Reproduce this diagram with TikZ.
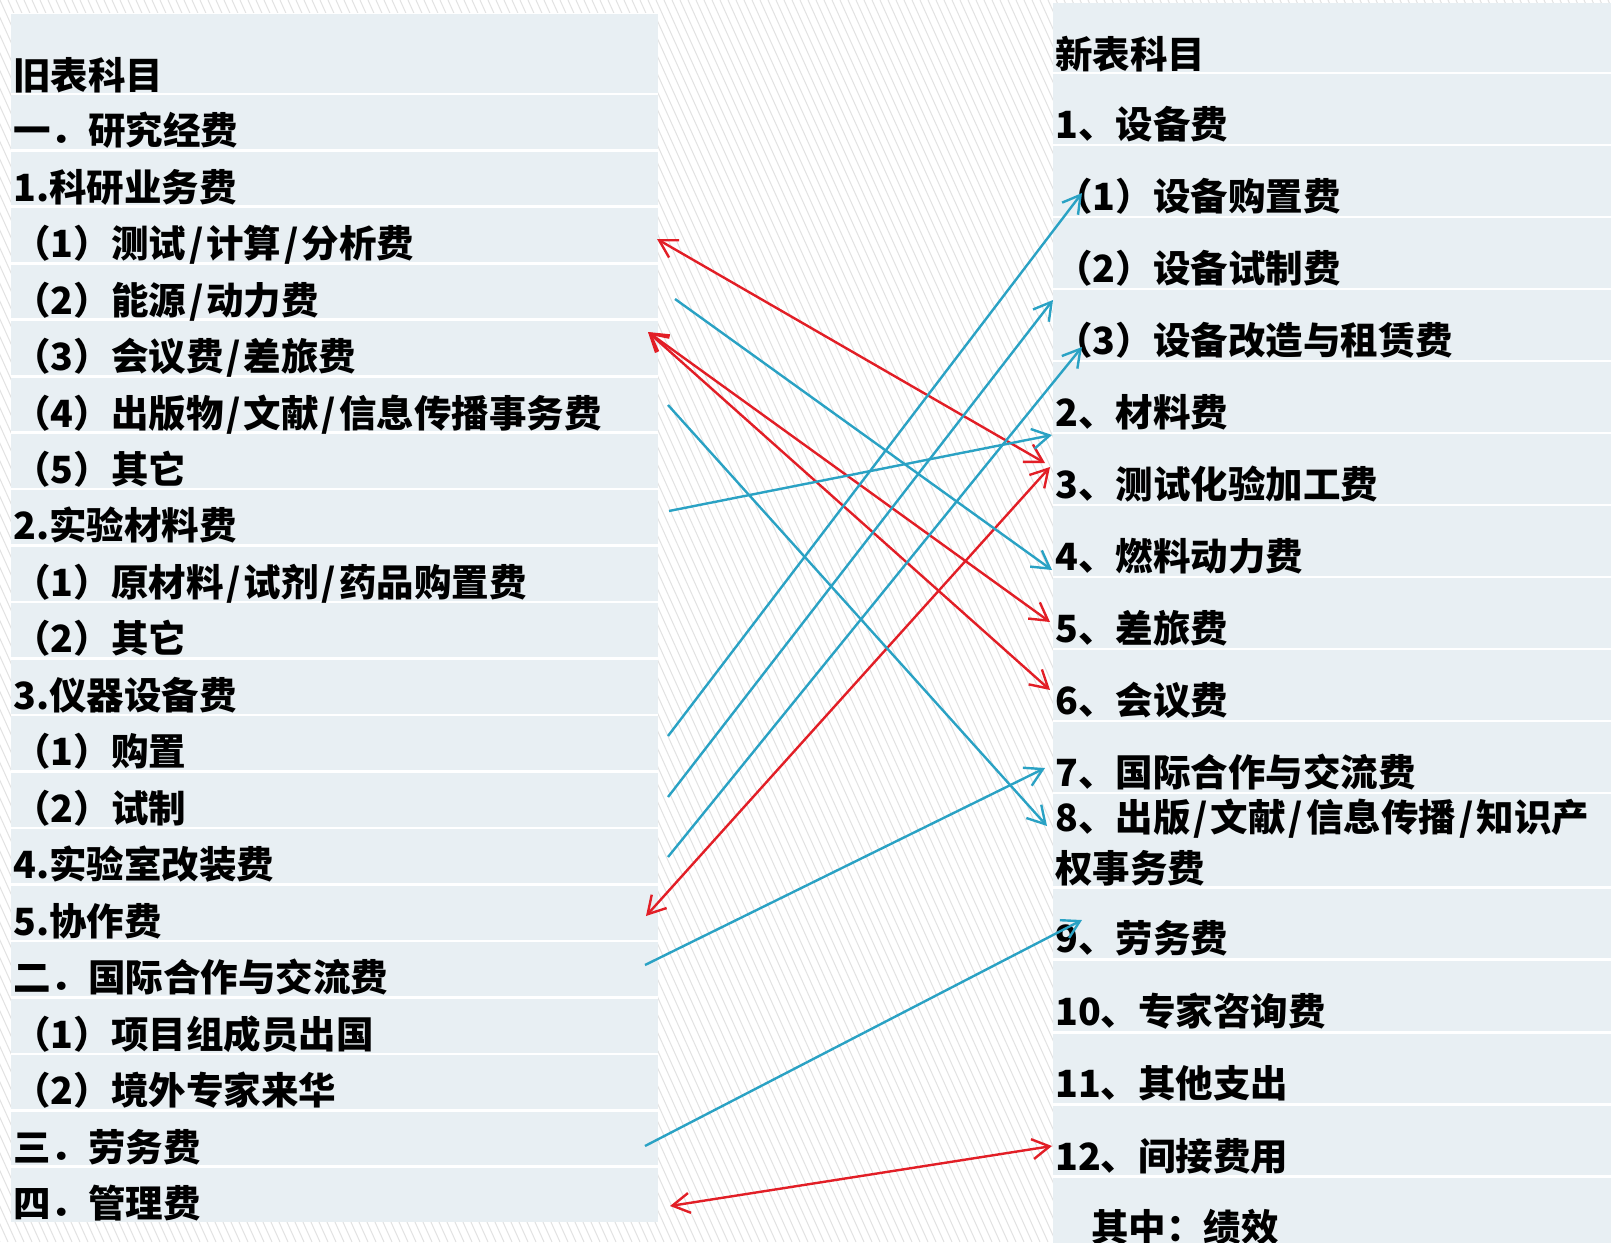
\documentclass[tikz,border=0pt]{standalone}
\usepackage{fontspec}
\setmainfont{Noto Sans CJK SC}
\usetikzlibrary{arrows.meta}
\definecolor{rowbg}{RGB}{232,239,243}
\definecolor{hatchc}{RGB}{226,226,226}
\definecolor{redA}{RGB}{226,30,38}
\definecolor{blueA}{RGB}{42,162,196}
\newcommand\slh{\kern3pt/\kern3pt}
\begin{document}
\begin{tikzpicture}[x=1pt,y=-1pt,
  rowL/.style={fill=rowbg, draw=none, inner sep=0pt, anchor=north west, minimum width=647pt, minimum height=53.8pt},
  rowR/.style={fill=rowbg, draw=none, inner sep=0pt, anchor=north west, minimum width=558pt, minimum height=69.5pt},
  txt/.style={inner sep=0pt, anchor=base west, font=\bfseries\fontsize{37.5}{50}\selectfont, text=black},
  redar/.style={draw=redA, line width=2.4pt, {Straight Barb[angle=60:20pt]}-{Straight Barb[angle=60:20pt]}},
  bluear/.style={draw=blueA, line width=2.4pt, -{Straight Barb[angle=60:20pt]}},
  hatch/.style={draw=hatchc, line width=1pt}
]
\useasboundingbox (0,0) rectangle (1611,1242);
\fill[white] (0,0) rectangle (1611,1242);
\begin{scope}
  \clip (0,0) rectangle (1611,1242);
  \foreach \i in {-560,-552,...,1611} \draw[hatch] (\i,0) -- ++(560,1242);
\end{scope}
% table backgrounds
\fill[white] (11,13) rectangle (658,1222);
\fill[white] (1053,2.7) rectangle (1611,1242);

% ---------- left table ----------
\node[rowL, minimum height=79pt] (LH) at (11,13.3) {};
\node[txt] (tLH) at ([xshift=2pt,yshift=3pt]LH.south west) {旧表科目};
\foreach \t [count=\i from 0] in {一．研究经费,1.科研业务费,（1）测试\slh 计算\slh 分析费,（2）能源\slh 动力费,（3）会议费\slh 差旅费,（4）出版物\slh 文献\slh 信息传播事务费,（5）其它,2.实验材料费,（1）原材料\slh 试剂\slh 药品购置费,（2）其它,3.仪器设备费,（1）购置,（2）试制,4.实验室改装费,5.协作费,二．国际合作与交流费,（1）项目组成员出国,（2）境外专家来华,三．劳务费,四．管理费}{
  \node[rowL] (L\i) at (11,{95+56.47*\i}) {};
  \node[txt] (tL\i) at ([xshift=2pt,yshift=4.5pt]L\i.south west) {\t};
}

% ---------- right table ----------
\node[rowR, minimum height=69pt] (RH) at (1053,2.7) {};
\node[txt] (tRH) at ([xshift=2pt,yshift=3.7pt]RH.south west) {新表科目};
\foreach \t [count=\i from 0] in {1、设备费,（1）设备购置费,（2）设备试制费,（3）设备改造与租赁费,2、材料费,3、测试化验加工费,4、燃料动力费,5、差旅费,6、会议费,7、国际合作与交流费}{
  \node[rowR] (R\i) at (1053,{74+72*\i}) {};
  \node[txt] (tR\i) at ([xshift=2pt,yshift=5.5pt]R\i.south west) {\t};
}
\node[rowR, minimum height=92pt] (R10) at (1053,794) {};
\node[txt] (tR10a) at ([xshift=2pt,yshift=55pt]R10.south west) {8、出版\slh 文献\slh 信息传播\slh 知识产};
\node[txt] (tR10b) at ([xshift=2pt,yshift=4pt]R10.south west) {权事务费};
\foreach \t [count=\i from 11] in {9、劳务费,10、专家咨询费,11、其他支出,12、间接费用}{
  \node[rowR] (R\i) at (1053,{888.5+72.4*(\i-11)}) {};
  \node[txt] (tR\i) at ([xshift=2pt,yshift=5.5pt]R\i.south west) {\t};
}
\node[rowR] (R15) at (1053,1178.1) {};
\node[txt] (tR15) at ([xshift=38pt,yshift=7pt]R15.south west) {其中：绩效};

% ---------- connector end points ----------
\coordinate (r1a) at (657,239);  \coordinate (r1b) at (1045,463);
\coordinate (r2a) at (648,332);  \coordinate (r2b) at (1050,622);
\coordinate (r3b) at (1050,690);
\coordinate (r4a) at (646,916);  \coordinate (r4b) at (1050,467);
\coordinate (r5a) at (670,1206); \coordinate (r5b) at (1052,1146);

\coordinate (b1a) at (675,299);  \coordinate (b1b) at (1052,570);
\coordinate (b2a) at (668,405);  \coordinate (b2b) at (1047,826);
\coordinate (b3a) at (669,511);  \coordinate (b3b) at (1052,435);
\coordinate (b4a) at (668,736);  \coordinate (b4b) at (1082,193);
\coordinate (b5a) at (668,797);  \coordinate (b5b) at (1053,300);
\coordinate (b6a) at (668,857);  \coordinate (b6b) at (1082,347);
\coordinate (b7a) at (645,965);  \coordinate (b7b) at (1045,768);
\coordinate (b8a) at (645,1146); \coordinate (b8b) at (1082,920);

% ---------- connectors ----------
\draw[redar] (r1a) -- (r1b);
\draw[redar] (r2a) -- (r2b);
\draw[redar] (r2a) -- (r3b);
\draw[redar] (r4a) -- (r4b);
\draw[redar] (r5a) -- (r5b);

\draw[bluear] (b1a) -- (b1b);
\draw[bluear] (b2a) -- (b2b);
\draw[bluear] (b3a) -- (b3b);
\draw[bluear] (b4a) -- (b4b);
\draw[bluear] (b5a) -- (b5b);
\draw[bluear] (b6a) -- (b6b);
\draw[bluear] (b7a) -- (b7b);
\draw[bluear] (b8a) -- (b8b);
\end{tikzpicture}
\end{document}
